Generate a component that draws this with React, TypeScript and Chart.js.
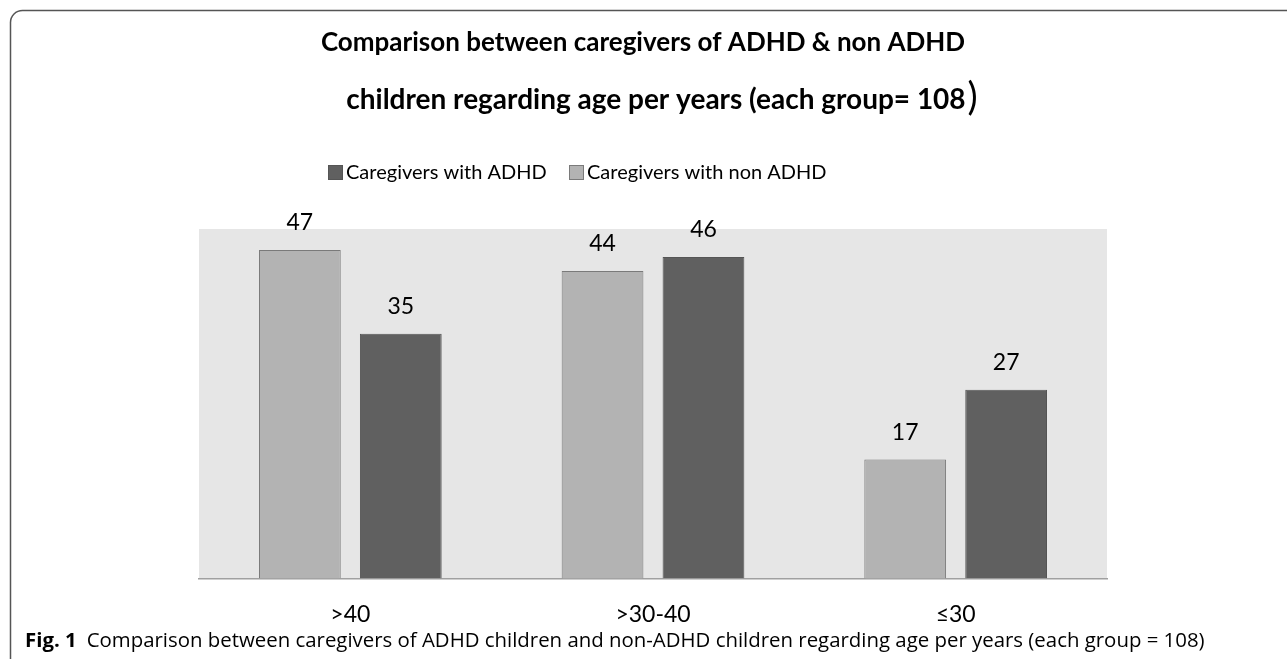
import React, { useEffect, useRef } from "react";
import { Chart, registerables } from "chart.js";

Chart.register(...registerables);

const categories = [">40", ">30-40", "≤30"];
const nonAdhdValues = [47, 44, 17];
const adhdValues = [35, 46, 27];
const seriesNames = ["Caregivers with non ADHD", "Caregivers with ADHD"];
const titleLine1 = "Comparison between caregivers of ADHD & non ADHD";
const titleLine2 = "children regarding age per years (each group= 108";
const titleParen = ")";
const captionBold = "Fig. 1";
const captionText =
  "Comparison between caregivers of ADHD children and non-ADHD children regarding age per years (each group = 108)";
const yMax = 50;

const LIGHT = "#b3b3b3";
const DARK = "#606060";
const FONT = "Lato, 'Open Sans', sans-serif";
const CAPTION_FONT = "'Open Sans', 'Noto Sans', sans-serif";

const decor = {
  id: "decor",
  beforeDraw(chart: any) {
    const { ctx, chartArea } = chart;
    ctx.save();
    ctx.fillStyle = "#e6e6e6";
    ctx.fillRect(chartArea.left, chartArea.top, chartArea.right - chartArea.left, chartArea.bottom - chartArea.top);
    ctx.restore();
  },
  afterDatasetsDraw(chart: any) {
    const { ctx } = chart;
    ctx.save();
    ctx.font = `23px ${FONT}`;
    ctx.fillStyle = "#000";
    ctx.textAlign = "center";
    ctx.textBaseline = "alphabetic";
    chart.data.datasets.forEach((ds: any, i: number) => {
      const meta = chart.getDatasetMeta(i);
      meta.data.forEach((bar: any, j: number) => {
        ctx.fillText(String(ds.data[j]), bar.x, bar.y - 20);
      });
    });
    ctx.restore();
  },
  afterDraw(chart: any) {
    const { ctx } = chart;
    ctx.save();
    // frame
    ctx.strokeStyle = "#555";
    ctx.lineWidth = 1.5;
    ctx.beginPath();
    ctx.moveTo(10.5, 659);
    ctx.lineTo(10.5, 22);
    ctx.arcTo(10.5, 10.5, 22, 10.5, 12);
    ctx.lineTo(1287, 10.5);
    ctx.stroke();

    // title
    ctx.fillStyle = "#000";
    ctx.textBaseline = "middle";
    ctx.textAlign = "center";
    ctx.font = `bold 26px ${FONT}`;
    ctx.fillText(titleLine1, 643, 43);
    ctx.font = `bold 28px ${FONT}`;
    const w2 = ctx.measureText(titleLine2).width;
    ctx.font = `38px ${FONT}`;
    const wp = ctx.measureText(titleParen).width;
    const start = 661 - (w2 + wp) / 2;
    ctx.textAlign = "left";
    ctx.font = `bold 28px ${FONT}`;
    ctx.fillText(titleLine2, start, 100);
    ctx.font = `38px ${FONT}`;
    ctx.fillText(titleParen, start + w2 + 2, 98);

    // legend (ADHD first, then non ADHD)
    ctx.font = `20px ${FONT}`;
    const order = [1, 0];
    const xs = [328, 569];
    order.forEach((idx, k) => {
      const ds = chart.data.datasets[idx];
      const x = xs[k];
      ctx.fillStyle = ds.backgroundColor;
      ctx.strokeStyle = ds.borderColor;
      ctx.lineWidth = 1;
      ctx.fillRect(x, 165, 15, 15);
      ctx.strokeRect(x + 0.5, 165.5, 14, 14);
      ctx.fillStyle = "#000";
      ctx.textAlign = "left";
      ctx.fillText(ds.label, x + 18, 173);
    });

    // caption
    ctx.textAlign = "left";
    ctx.font = `bold 20.4px ${CAPTION_FONT}`;
    ctx.fillText(captionBold, 25, 641);
    const bw = ctx.measureText(captionBold).width;
    ctx.font = `20.4px ${CAPTION_FONT}`;
    ctx.fillText(captionText, 25 + bw + 10, 641);
    ctx.restore();
  },
};

export default function App() {
  const ref = useRef<HTMLCanvasElement | null>(null);
  useEffect(() => {
    if (!ref.current) return;
    const chart = new Chart(ref.current, {
      type: "bar",
      data: {
        labels: categories,
        datasets: [
          {
            label: seriesNames[0],
            data: nonAdhdValues,
            backgroundColor: LIGHT,
            borderColor: "#7a7a7a",
            borderWidth: 1,
          },
          {
            label: seriesNames[1],
            data: adhdValues,
            backgroundColor: DARK,
            borderColor: "#555555",
            borderWidth: 1,
          },
        ],
      },
      options: {
        animation: false,
        responsive: false,
        maintainAspectRatio: false,
        layout: { padding: { left: 199, right: 180, top: 229, bottom: 9 } },
        plugins: {
          legend: { display: false },
          title: { display: false },
          tooltip: { enabled: false },
        },
        datasets: { bar: { categoryPercentage: 0.667, barPercentage: 0.81 } },
        scales: {
          x: {
            grid: { display: false, drawTicks: false },
            border: { display: true, color: "#a0a0a0", width: 1.5 },
            ticks: { color: "#000", font: { family: FONT, size: 23 }, padding: 22 },
          },
          y: {
            display: false,
            min: 0,
            max: yMax,
          },
        },
      },
      plugins: [decor],
    });
    return () => chart.destroy();
  }, []);
  return (
    <div style={{ position: "fixed", left: 0, top: 0, width: 1287, height: 659, background: "#fff" }}>
      <canvas ref={ref} width={1287} height={659} style={{ width: 1287, height: 659, display: "block" }} />
    </div>
  );
}
